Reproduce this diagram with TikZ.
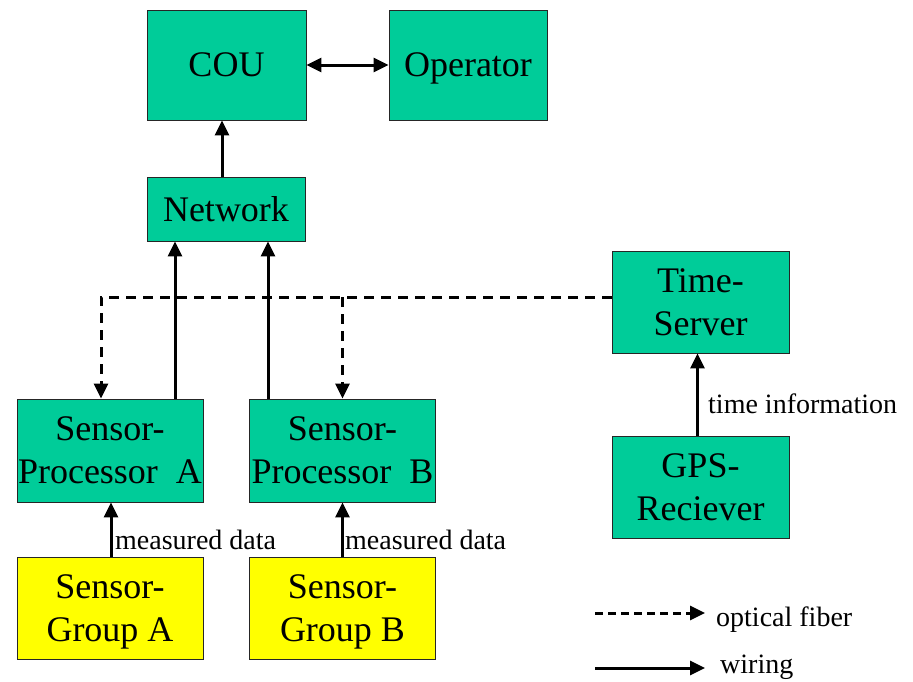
\documentclass[tikz,border=0pt]{standalone}
\usepackage{fontspec}
\setmainfont{Liberation Serif}
\usetikzlibrary{arrows.meta}
\definecolor{boxteal}{HTML}{00CC99}
\definecolor{boxyellow}{HTML}{FFFF00}
\tikzset{
  blk/.style={draw=black!85, line width=0.9pt, fill=boxteal, align=center, inner sep=0pt,
    text depth=0pt, font=\fontsize{36}{43}\selectfont},
  ylw/.style={blk, fill=boxyellow},
  tip/.style={-{Triangle[length=15pt,width=14pt]}},
  wire/.style={line width=3pt, tip},
  fiber/.style={line width=3pt, dash pattern=on 10pt off 7pt, tip},
  lbl/.style={anchor=base west, inner sep=0pt, font=\fontsize{28}{33}\selectfont}
}
\begin{document}
\begin{tikzpicture}[x=1pt,y=-1pt]
\useasboundingbox (0,0) rectangle (913,681);
\node[blk, minimum width=159pt, minimum height=110pt] (cou) at (226.5,65) {COU};
\node[blk, minimum width=158pt, minimum height=110pt] (op) at (468,65) {Operator};
\node[blk, minimum width=158pt, minimum height=64pt] (net) at (226,209) {Network};
\node[blk, minimum width=177pt, minimum height=102pt] (ts) at (700.5,302) {Time-\\Server};
\node[blk, minimum width=177pt, minimum height=102pt] (gps) at (700.5,487) {GPS-\\Reciever};
\node[blk, minimum width=186pt, minimum height=103pt] (spa) at (110,450.5) {Sensor-\\Processor\ \ A};
\node[blk, minimum width=186pt, minimum height=103pt] (spb) at (342.5,450.5) {Sensor-\\Processor\ \ B};
\node[ylw, minimum width=186pt, minimum height=102pt] (sga) at (110,608) {Sensor-\\Group A};
\node[ylw, minimum width=186pt, minimum height=102pt] (sgb) at (342.5,608) {Sensor-\\Group B};

\coordinate (tsw) at ([yshift=5pt]ts.west);

\draw[line width=3pt, {Triangle[length=15pt,width=14pt]}-{Triangle[length=15pt,width=14pt]}] (cou.east) -- (op.west);
\draw[wire] ([xshift=-4pt]net.north) -- ([xshift=-4pt]net.north |- cou.south);
\draw[wire] ([xshift=65pt]spa.north) -- ([xshift=65pt]spa.north |- net.south);
\draw[wire] ([xshift=-74.5pt]spb.north) -- ([xshift=-74.5pt]spb.north |- net.south);
\draw[fiber] (tsw) -| ([xshift=-9pt]spa.north);
\draw[fiber] (spb.north |- tsw) -- (spb.north);
\draw[wire] ([xshift=-3pt]gps.north) -- ([xshift=-3pt]gps.north |- ts.south);
\draw[wire] ([xshift=1pt]sga.north) -- ([xshift=1pt]sga.north |- spa.south);
\draw[wire] (sgb.north) -- (sgb.north |- spb.south);

\node[lbl] (lti) at (708,413) {time information};
\node[lbl] (lma) at (115,549) {measured data};
\node[lbl] (lmb) at (345,549) {measured data};

\coordinate (fa) at (595,613);
\coordinate (fb) at (705,613);
\coordinate (wa) at (595,668);
\coordinate (wb) at (705,668);
\draw[fiber, dash pattern=on 8pt off 5pt] (fa) -- (fb);
\draw[wire] (wa) -- (wb);
\node[lbl] (lof) at (716,626) {optical fiber};
\node[lbl] (lw) at (720,673) {wiring};
\end{tikzpicture}
\end{document}
